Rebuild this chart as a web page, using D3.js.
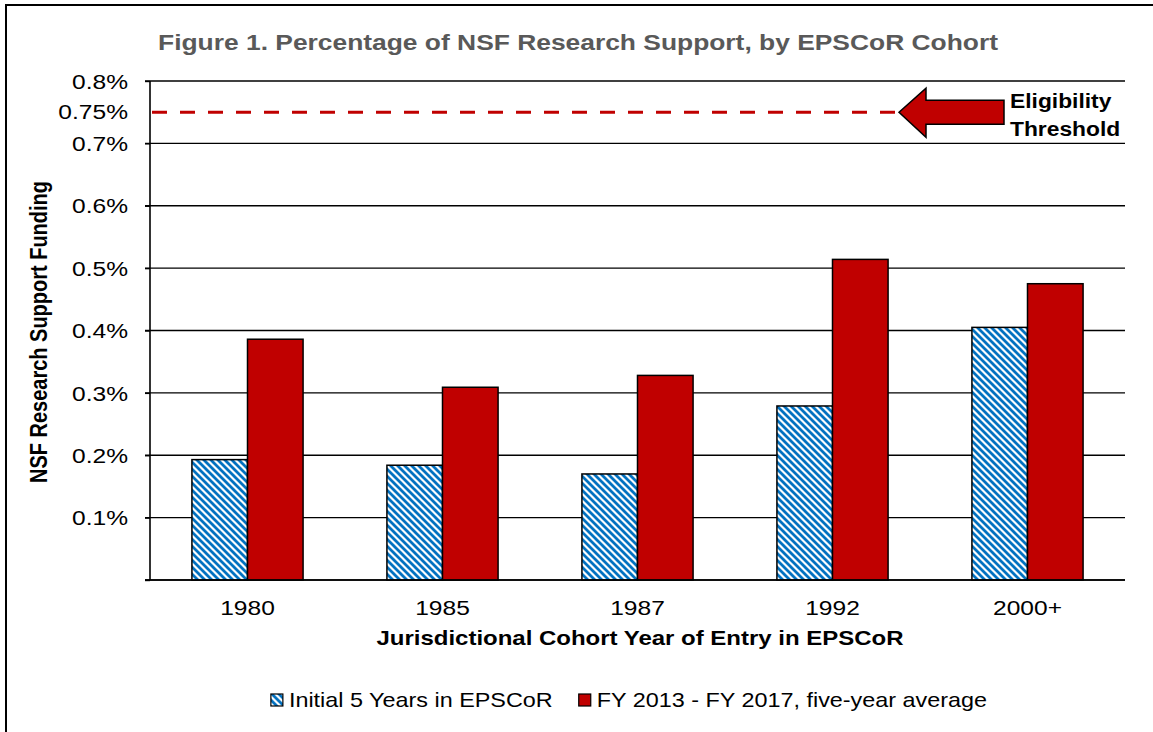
<!DOCTYPE html>
<html>
<head>
<meta charset="utf-8">
<script src="https://cdn.jsdelivr.net/npm/d3@7"></script>
<style>
  html, body { margin: 0; padding: 0; background: #fff; }
  svg { display: block; font-family: "Liberation Sans", Arial, sans-serif; }
</style>
</head>
<body>
<svg id="chart" width="1153" height="732"></svg>
<script>
// ---------- data ----------
const categories = ["1980", "1985", "1987", "1992", "2000+"];
const seriesNames = ["Initial 5 Years in EPSCoR", "FY 2013 - FY 2017, five-year average"];
const initialFiveYears = [0.193, 0.184, 0.170, 0.279, 0.405];
const fyFiveYearAverage = [0.386, 0.309, 0.328, 0.514, 0.475];
const yTickValues = [0, 0.1, 0.2, 0.3, 0.4, 0.5, 0.6, 0.7, 0.8];
const yTickLabels = ["", "0.1%", "0.2%", "0.3%", "0.4%", "0.5%", "0.6%", "0.7%", "0.8%"];
const thresholdValue = 0.75;
const thresholdLabel = "0.75%";
const thresholdText = ["Eligibility", "Threshold"];
const titleText = "Figure 1. Percentage of NSF Research Support, by EPSCoR Cohort";
const xTitleText = "Jurisdictional Cohort Year of Entry in EPSCoR";
const yTitleText = "NSF Research Support Funding";

// ---------- setup ----------
const SX = 1.17; // horizontal glyph stretch of the reference
const RED = "#C00000", BLUE = "#0070C0";
const svg = d3.select("#chart");
const plot = { left: 150, right: 1125, top: 81, bottom: 580 };

const y = d3.scaleLinear().domain([0, 0.8]).range([plot.bottom, plot.top]);
const x0 = d3.scaleBand().domain(categories).range([plot.left, plot.right])
  .paddingInner(0.43).paddingOuter(0.215);
const x1 = d3.scaleBand().domain(seriesNames).range([0, x0.bandwidth()]);

// pattern
const defs = svg.append("defs");
const P = 7;
const pat = defs.append("pattern").attr("id", "hatch").attr("patternUnits", "userSpaceOnUse")
  .attr("width", P).attr("height", P);
pat.append("rect").attr("width", P).attr("height", P).attr("fill", "#fff");
pat.append("path").attr("d", `M-1,-1L${P + 1},${P + 1}M-1,${P - 1}L1,${P + 1}M${P - 1},-1L${P + 1},1`)
  .attr("stroke", BLUE).attr("stroke-width", 2.8);

// frame
svg.append("path").attr("d", "M6,732V5H1153").attr("fill", "none")
  .attr("stroke", "#000").attr("stroke-width", 2);

// title
svg.append("text").attr("transform", `translate(578,50) scale(1.2,1)`)
  .attr("text-anchor", "middle").attr("font-size", 22).attr("font-weight", "bold")
  .attr("fill", "#595959").text(titleText);

// gridlines
svg.append("g").selectAll("line").data(yTickValues).join("line")
  .attr("x1", plot.left - 5).attr("x2", plot.right)
  .attr("y1", d => y(d)).attr("y2", d => y(d))
  .attr("stroke", "#000").attr("stroke-width", 1.4);

// y axis
const yAxis = svg.append("g").attr("transform", `translate(${plot.left},0)`)
  .call(d3.axisLeft(y).tickValues(yTickValues).tickSize(5)
    .tickFormat((d, i) => yTickLabels[i]));
yAxis.select(".domain").remove();
yAxis.selectAll(".tick line").attr("stroke", "#000").attr("stroke-width", 1.4);
yAxis.selectAll(".tick text").attr("x", null).attr("dy", "0.34em")
  .attr("transform", `translate(-22,0) scale(${SX},1)`)
  .attr("font-size", 21).attr("fill", "#000").attr("font-family", null);
// extra 0.75% label
svg.append("text").attr("transform", `translate(${plot.left - 22},${y(thresholdValue)}) scale(${SX},1)`)
  .attr("dy", "0.34em").attr("text-anchor", "end").attr("font-size", 21).text(thresholdLabel);
svg.append("line").attr("x1", plot.left).attr("x2", plot.left)
  .attr("y1", plot.top).attr("y2", plot.bottom).attr("stroke", "#000").attr("stroke-width", 1.6);

// bars
const rows = categories.map((c, i) => ({ cat: c, vals: [initialFiveYears[i], fyFiveYearAverage[i]] }));
const groups = svg.append("g").selectAll("g").data(rows).join("g")
  .attr("transform", d => `translate(${x0(d.cat)},0)`);
groups.selectAll("rect").data(d => d.vals.map((v, j) => ({ s: seriesNames[j], v, j })))
  .join("rect")
  .attr("x", d => x1(d.s)).attr("width", x1.bandwidth())
  .attr("y", d => y(d.v)).attr("height", d => y(0) - y(d.v))
  .attr("fill", d => d.j === 0 ? "url(#hatch)" : RED)
  .attr("stroke", "#000").attr("stroke-width", 1.5);

// baseline
svg.append("line").attr("x1", plot.left - 5).attr("x2", plot.right)
  .attr("y1", y(0)).attr("y2", y(0)).attr("stroke", "#000").attr("stroke-width", 1.5);

// x axis
const xAxis = svg.append("g").attr("transform", `translate(0,${plot.bottom})`)
  .call(d3.axisBottom(x0).tickSize(0));
xAxis.select(".domain").remove();
xAxis.selectAll(".tick text").attr("y", null).attr("dy", null)
  .attr("transform", `translate(0,35) scale(${SX},1)`)
  .attr("font-size", 21).attr("fill", "#000").attr("font-family", null);

// axis titles
svg.append("text").attr("transform", `translate(640,645) scale(${SX},1)`)
  .attr("text-anchor", "middle").attr("font-size", 20.5).attr("font-weight", "bold").text(xTitleText);
svg.append("text").attr("transform", `translate(47,332) scale(${SX},1) rotate(-90)`)
  .attr("text-anchor", "middle").attr("font-size", 20).attr("font-weight", "bold").text(yTitleText);

// threshold line
const arrowTip = 899;
svg.append("line").attr("x1", plot.left + 2).attr("x2", arrowTip)
  .attr("y1", y(thresholdValue)).attr("y2", y(thresholdValue))
  .attr("stroke", RED).attr("stroke-width", 3).attr("stroke-dasharray", "15,13");

// arrow
const ty = y(thresholdValue);
const arrowPts = [[arrowTip, ty], [926, ty - 24], [926, ty - 12], [1004, ty - 12],
  [1004, ty + 12], [926, ty + 12], [926, ty + 25]];
svg.append("path").attr("d", d3.line()(arrowPts) + "Z")
  .attr("fill", RED).attr("stroke", "#000").attr("stroke-width", 1.5).attr("stroke-linejoin", "miter");
svg.append("g").selectAll("text").data(thresholdText).join("text")
  .attr("transform", (d, i) => `translate(1010,${108 + i * 28}) scale(${SX},1)`)
  .attr("font-size", 19.5).attr("font-weight", "bold").text(d => d);

// legend
const legend = svg.append("g");
const legendFont = 20;
const items = [];
seriesNames.forEach((name, j) => {
  const g = legend.append("g");
  g.append("rect").attr("x", 0).attr("y", -13).attr("width", 12).attr("height", 12)
    .attr("fill", j === 0 ? "url(#hatch)" : RED).attr("stroke", "#000").attr("stroke-width", 1.2);
  const t = g.append("text").attr("transform", `translate(18,0) scale(${SX},1)`)
    .attr("font-size", legendFont).text(name);
  const w = 18 + t.node().getComputedTextLength() * SX;
  items.push({ g, w });
});
const gap = 26;
const totalW = items.reduce((a, b) => a + b.w, 0) + gap;
let cx = 629 - totalW / 2;
items.forEach(it => { it.g.attr("transform", `translate(${cx},707)`); cx += it.w + gap; });
</script>
</body>
</html>
